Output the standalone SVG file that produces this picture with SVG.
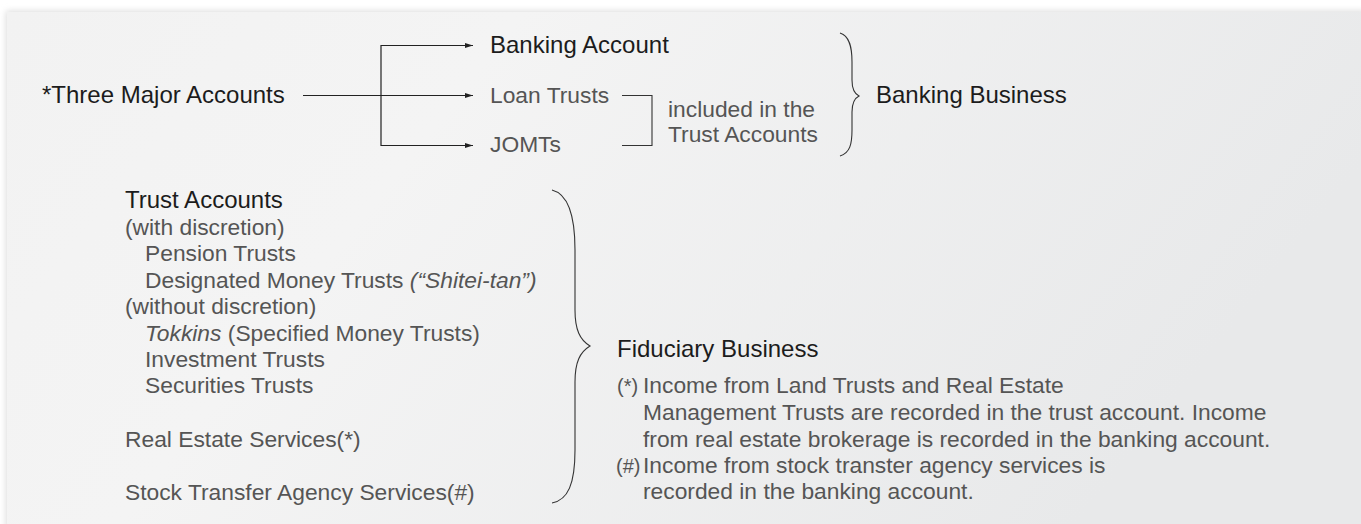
<svg xmlns="http://www.w3.org/2000/svg" width="1361" height="524" viewBox="0 0 1361 524">
  <defs>
    <linearGradient id="bg" x1="0" y1="0" x2="1" y2="0.3">
      <stop offset="0" stop-color="#f2f2f2"/>
      <stop offset="0.35" stop-color="#f4f4f4"/>
      <stop offset="1" stop-color="#e8e9ea"/>
    </linearGradient>
    <filter id="sh" x="-5%" y="-5%" width="110%" height="110%">
      <feGaussianBlur stdDeviation="3"/>
    </filter>
    <marker id="arr" viewBox="0 0 10 6" refX="10" refY="3" markerWidth="8" markerHeight="5" markerUnits="userSpaceOnUse" orient="auto">
      <path d="M0,0 L10,3 L0,6 Z" fill="#222"/>
    </marker>
    <style>
      .h { font-family: "Liberation Sans", Arial, sans-serif; font-size: 24px; fill: #1c1c1c; }
      .l { font-family: "Liberation Sans", Arial, sans-serif; font-size: 22.8px; fill: #555555; }
      .mk { font-family: "Liberation Sans", Arial, sans-serif; font-size: 20px; fill: #555555; }
      .it { font-style: italic; }
      .ln { fill: none; stroke: #222; stroke-width: 1.2; }
      .br { fill: none; stroke: #333; stroke-width: 1.1; }
    </style>
  </defs>

  <rect x="0" y="0" width="1361" height="524" fill="#ffffff"/>
  <rect x="6" y="11" width="1360" height="520" fill="#dcdcdc" filter="url(#sh)"/>
  <rect x="7" y="12" width="1354" height="512" fill="url(#bg)"/>

  <g id="connectors">
    <line class="ln" x1="303" y1="95.5" x2="473" y2="95.5" marker-end="url(#arr)"/>
    <path class="ln" d="M473,45.5 H381 V145.5 H473" marker-end="url(#arr)"/>
    <line class="ln" x1="381" y1="45.5" x2="473" y2="45.5" marker-end="url(#arr)"/>
    <path class="br" d="M622,95.5 H652 V145.5 H622"/>
    <path class="br" d="M840,33 C850,36 852,48 852,62 L852,80 C852,90 855,94 859,96 C855,98 852,102 852,112 L852,130 C852,144 850,153 840,156"/>
    <path class="br" d="M552,190 C568,194 575,214 575,250 L575,310 C575,330 580,340 590,346 C580,352 575,362 575,382 L575,450 C575,484 568,500 552,503"/>
  </g>

  <g id="three-major-accounts">
    <text class="h" x="42" y="103">*Three Major Accounts</text>
  </g>
  <g id="banking-account">
    <text class="h" x="490" y="53">Banking Account</text>
  </g>
  <g id="loan-trusts">
    <text class="l" x="490" y="103">Loan Trusts</text>
  </g>
  <g id="jomts">
    <text class="l" x="490" y="152">JOMTs</text>
  </g>
  <g id="included-note">
    <text class="l" x="668" y="117">included in the</text>
    <text class="l" x="668" y="142">Trust Accounts</text>
  </g>
  <g id="banking-business">
    <text class="h" x="876" y="103">Banking Business</text>
  </g>

  <g id="trust-accounts">
    <text class="h" x="125" y="208">Trust Accounts</text>
    <text class="l" x="125" y="235">(with discretion)</text>
    <text class="l" x="145" y="261">Pension Trusts</text>
    <text class="l" x="145" y="288">Designated Money Trusts <tspan class="it">(“Shitei-tan”)</tspan></text>
    <text class="l" x="125" y="314">(without discretion)</text>
    <text class="l" x="145" y="341"><tspan class="it">Tokkins</tspan> (Specified Money Trusts)</text>
    <text class="l" x="145" y="367">Investment Trusts</text>
    <text class="l" x="145" y="393">Securities Trusts</text>
  </g>
  <g id="real-estate-services">
    <text class="l" x="125" y="447">Real Estate Services(*)</text>
  </g>
  <g id="stock-transfer">
    <text class="l" x="125" y="500">Stock Transfer Agency Services(#)</text>
  </g>

  <g id="fiduciary-business">
    <text class="h" x="617" y="357">Fiduciary Business</text>
  </g>
  <g id="notes">
    <text class="mk" x="617" y="393">(*)</text>
    <text class="l" x="643" y="393">Income from Land Trusts and Real Estate</text>
    <text class="l" x="643" y="420">Management Trusts are recorded in the trust account. Income</text>
    <text class="l" x="643" y="447">from real estate brokerage is recorded in the banking account.</text>
    <text class="mk" x="616" y="473">(#)</text>
    <text class="l" x="643" y="473">Income from stock transter agency services is</text>
    <text class="l" x="643" y="499">recorded in the banking account.</text>
  </g>
</svg>
